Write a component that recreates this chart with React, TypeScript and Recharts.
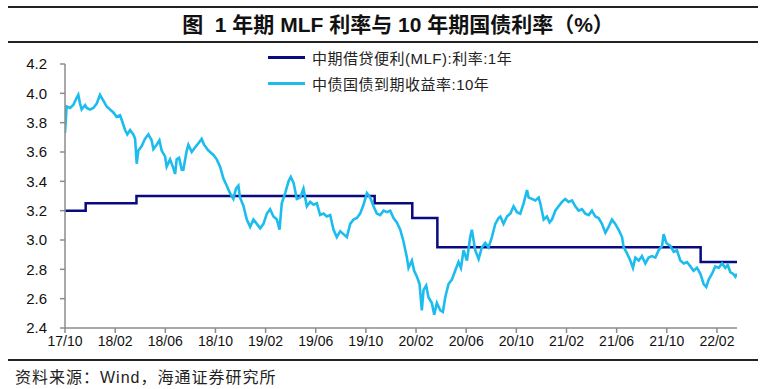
import * as React from 'react';
import { Line, LineChart, XAxis, YAxis } from 'recharts';

// months counted from 2017/10
const tickMonths = [0, 4, 8, 12, 16, 20, 24, 28, 32, 36, 40, 44, 48, 52];
const tickLabels = ['17/10', '18/02', '18/06', '18/10', '19/02', '19/06', '19/10', '20/02', '20/06', '20/10', '21/02', '21/06', '21/10', '22/02'];
const yTicks = [2.4, 2.6, 2.8, 3.0, 3.2, 3.4, 3.6, 3.8, 4.0, 4.2];

const mlfMonths = [0, 1.65, 5.7, 24.7, 27.7, 29.7, 50.7, 53.6];
const mlfRates = [3.2, 3.25, 3.3, 3.25, 3.15, 2.95, 2.85, 2.85];

const yieldMonths = [
    0.0, 0.13, 0.4, 0.66, 0.93, 1.06, 1.2, 1.33, 1.6, 1.73, 1.99, 2.26, 2.53, 2.79, 3.06, 3.32, 3.59, 3.86,
    4.12, 4.39, 4.52, 4.79, 4.97, 5.19, 5.45, 5.59, 5.72, 5.85, 6.12, 6.38, 6.65, 6.91, 7.05, 7.31, 7.53, 7.71,
    7.98, 8.11, 8.38, 8.64, 8.78, 8.91, 9.1, 9.31, 9.44, 9.71, 9.84, 10.11, 10.37, 10.64, 10.9, 11.09, 11.44,
    11.84, 12.1, 12.37, 12.63, 12.9, 13.16, 13.43, 13.64, 13.83, 13.96,
    14.24, 14.5, 14.77, 15.03, 15.3, 15.57, 15.83, 16.1, 16.36, 16.63, 16.9, 17.11, 17.29, 17.56, 17.83, 18.01,
    18.23, 18.49, 18.76, 19.02, 19.29, 19.55, 19.82, 20.09, 20.35, 20.62, 20.88, 21.15, 21.42, 21.68, 21.95,
    22.21, 22.48, 22.75, 23.01, 23.28, 23.54, 23.81, 24.08, 24.34, 24.61, 24.87, 25.14, 25.41, 25.67, 25.94,
    26.2, 26.47, 26.74, 27.0, 27.27, 27.4, 27.67, 27.85, 28.07, 28.28, 28.46, 28.6, 28.81, 28.99, 29.26, 29.45,
    29.66, 29.93, 30.14, 30.33, 30.59, 30.86, 31.12, 31.39, 31.58, 31.79, 32.06, 32.32, 32.45, 32.72, 32.99,
    33.25, 33.52, 33.78, 34.05, 34.32, 34.58,
    34.72, 34.98, 35.25, 35.52, 35.78, 36.05, 36.31, 36.58, 36.85, 36.98, 37.24, 37.51, 37.78, 37.91, 38.18,
    38.44, 38.65, 38.84, 39.11, 39.37, 39.64, 39.9, 40.17, 40.44, 40.7, 40.97, 41.23, 41.5, 41.77, 42.03, 42.3,
    42.56, 42.83, 43.1, 43.36, 43.63, 43.89, 44.16, 44.43, 44.56, 44.82, 45.09, 45.3, 45.49, 45.76, 46.02,
    46.29, 46.55, 46.82, 47.09, 47.35, 47.62, 47.75, 47.96, 48.28, 48.55, 48.81, 49.08, 49.35, 49.61, 49.88,
    50.14, 50.41, 50.68, 50.94, 51.15, 51.34, 51.61, 51.87, 52.14, 52.41, 52.67, 52.86, 53.07, 53.28, 53.47, 53.6,
];
const yieldValues = [
    3.73, 3.91, 3.9, 3.92, 3.97, 3.99, 3.93, 3.89, 3.92, 3.9, 3.89, 3.9, 3.93, 3.99, 3.95, 3.91, 3.89, 3.87,
    3.84, 3.85, 3.82, 3.75, 3.72, 3.75, 3.72, 3.69, 3.52, 3.61, 3.64, 3.69, 3.72, 3.68, 3.62, 3.65, 3.68, 3.61,
    3.57, 3.5, 3.55, 3.49, 3.45, 3.55, 3.56, 3.48, 3.48, 3.61, 3.65, 3.6, 3.63, 3.66, 3.69, 3.65, 3.61,
    3.58, 3.55, 3.5, 3.42, 3.37, 3.32, 3.28, 3.35, 3.37, 3.29,
    3.23, 3.14, 3.09, 3.14, 3.11, 3.08, 3.11, 3.18, 3.21, 3.16, 3.14, 3.07, 3.25, 3.32, 3.4, 3.43,
    3.39, 3.28, 3.29, 3.35, 3.23, 3.26, 3.24, 3.25, 3.17, 3.18, 3.16, 3.17, 3.07, 3.02, 3.06,
    3.04, 3.02, 3.11, 3.14, 3.15, 3.18, 3.24, 3.32, 3.29, 3.23, 3.18, 3.17, 3.2, 3.19, 3.2,
    3.15, 3.12, 3.07, 2.99, 2.88, 2.81, 2.86, 2.79, 2.75, 2.7, 2.52, 2.66, 2.69, 2.61, 2.57, 2.49,
    2.57, 2.52, 2.51, 2.61, 2.7, 2.73, 2.79, 2.85, 2.81, 2.93, 2.86, 3.02, 3.07, 2.93, 2.87,
    2.95, 2.98, 2.95, 3.02, 3.11, 3.15,
    3.16, 3.11, 3.16, 3.18, 3.23, 3.19, 3.18, 3.25, 3.34, 3.29, 3.28, 3.27, 3.29, 3.25, 3.14,
    3.16, 3.12, 3.14, 3.2, 3.23, 3.26, 3.28, 3.26, 3.27, 3.23, 3.2, 3.21, 3.18, 3.17, 3.2, 3.16,
    3.15, 3.11, 3.05, 3.09, 3.14, 3.11, 3.07, 3.02, 2.95, 2.91, 2.86, 2.81, 2.88, 2.86, 2.89,
    2.84, 2.88, 2.89, 2.88, 2.93, 2.96, 3.04, 2.98, 2.96, 2.92, 2.93, 2.86, 2.84, 2.85, 2.82,
    2.79, 2.81, 2.77, 2.7, 2.68, 2.73, 2.77, 2.82, 2.81, 2.84, 2.81, 2.83, 2.78, 2.77, 2.75, 2.77,
];

const mlfData = mlfMonths.map((t, i) => ({ t, v: mlfRates[i] }));
const yieldData = yieldMonths.map((t, i) => ({ t, v: yieldValues[i] }));

const NAVY = '#0a0a80';
const CYAN = '#1cbcee';
const FONT = '"Liberation Sans", Arial, "Noto Sans CJK SC", sans-serif';

export default function App() {
    return (
        <div style={{ position: 'relative', width: 764, height: 389, background: '#fff', fontFamily: FONT }}>
            <style>{'body{margin:0}'}</style>
            <div style={{ position: 'absolute', left: 8, top: 6, width: 750, height: 2, background: '#222' }} />
            <div
                style={{
                    position: 'absolute',
                    left: 8,
                    top: 11,
                    width: 750,
                    textAlign: 'center',
                    fontSize: 21,
                    fontWeight: 'bold',
                    color: '#111',
                    lineHeight: '28px',
                    paddingLeft: 30,
                    boxSizing: 'border-box',
                }}
            >
                图&nbsp;&nbsp;1 年期 MLF 利率与 10 年期国债利率（%）
            </div>
            <div style={{ position: 'absolute', left: 8, top: 41, width: 750, height: 2, background: '#222' }} />

            <LineChart
                width={764}
                height={389}
                margin={{ top: 64, right: 27, bottom: 31, left: 15 }}
                style={{ position: 'absolute', left: 0, top: 0 }}
            >
                <XAxis
                    type="number"
                    dataKey="t"
                    domain={[0, 53.6]}
                    ticks={tickMonths}
                    tickFormatter={(v) => tickLabels[tickMonths.indexOf(v)] ?? ''}
                    allowDataOverflow
                    stroke="#8c8c8c"
                    strokeWidth={1.5}
                    tickSize={5}
                    tickMargin={3}
                    tick={{ fontSize: 14, fill: '#111' }}
                />
                <YAxis
                    type="number"
                    domain={[2.4, 4.2]}
                    ticks={yTicks}
                    tickFormatter={(v) => v.toFixed(1)}
                    width={50}
                    stroke="#8c8c8c"
                    strokeWidth={1.5}
                    tickSize={5}
                    tickMargin={13}
                    tick={{ fontSize: 15, fill: '#111' }}
                />
                <Line
                    data={mlfData}
                    dataKey="v"
                    type="stepAfter"
                    stroke={NAVY}
                    strokeWidth={2.5}
                    dot={false}
                    isAnimationActive={false}
                />
                <Line
                    data={yieldData}
                    dataKey="v"
                    type="linear"
                    stroke={CYAN}
                    strokeWidth={2.6}
                    dot={false}
                    isAnimationActive={false}
                />
            </LineChart>

            {[
                { label: '中期借贷便利(MLF):利率:1年', color: NAVY, top: 48 },
                { label: '中债国债到期收益率:10年', color: CYAN, top: 74 },
            ].map((item) => (
                <div key={item.label} style={{ position: 'absolute', left: 268, top: item.top, display: 'flex', alignItems: 'center', height: 18 }}>
                    <div style={{ width: 37, height: 3, background: item.color }} />
                    <span style={{ marginLeft: 7, fontSize: 15, color: '#222', whiteSpace: 'nowrap', letterSpacing: 0.5 }}>{item.label}</span>
                </div>
            ))}

            <div style={{ position: 'absolute', left: 8, top: 359, width: 750, height: 1.5, background: '#222' }} />
            <div style={{ position: 'absolute', left: 15, top: 364, fontSize: 16, color: '#222', whiteSpace: 'nowrap', letterSpacing: 1 }}>
                资料来源：Wind，海通证券研究所
            </div>
        </div>
    );
}
